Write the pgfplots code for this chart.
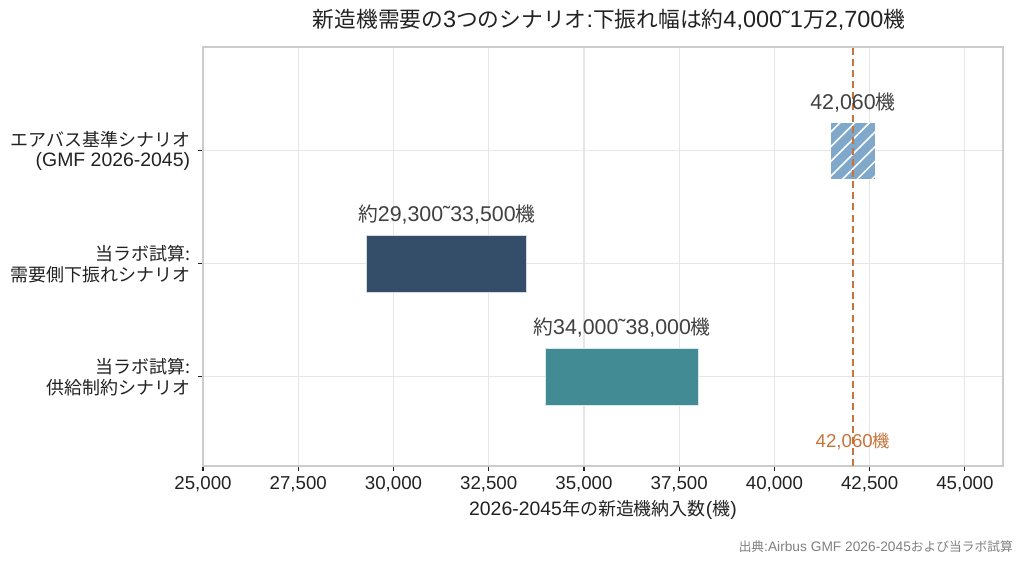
\documentclass[border=0pt]{standalone}
\usepackage{pgfplots}
\pgfplotsset{compat=1.18}
\usepackage{fontspec}
\setmainfont{Liberation Sans}[Scale=1.08]
\newfontfamily\cjk{Noto Sans CJK JP}
\usetikzlibrary{patterns.meta}
\definecolor{navybar}{HTML}{344D69}
\definecolor{tealbar}{HTML}{428A94}
\definecolor{bluebar}{HTML}{7FA8CA}
\definecolor{orangeline}{HTML}{C8733A}
\definecolor{gridc}{HTML}{E6E6E6}
\definecolor{framec}{HTML}{CCCCCC}
\definecolor{txt}{HTML}{222222}
\definecolor{lbl}{HTML}{404040}
\begin{document}
\begin{tikzpicture}
\begin{axis}[
  at={(146.16bp,71.28bp)}, anchor=south west,
  scale only axis, width=576bp, height=301.68bp,
  xmin=25000, xmax=46000, ymin=-0.79, ymax=2.92,
  xtick={25000,27500,...,45000},
  scaled x ticks=false,
  xticklabel style={/pgf/number format/.cd, fixed, precision=0, 1000 sep={,}, assume math mode=true, /tikz/.cd, font=\fontsize{12.5}{15}\selectfont, text=txt},
  ytick={0,1,2},
  yticklabels={{\cjk 当ラボ試算:\\\cjk 供給制約シナリオ},{\cjk 当ラボ試算:\\\cjk 需要側下振れシナリオ},{\cjk エアバス基準シナリオ\\(GMF 2026-2045)}},
  yticklabel style={align=right, font=\fontsize{13}{15}\selectfont, text=txt, xshift=-2bp},
  grid=major, major grid style={gridc, line width=0.8bp},
  axis line style={framec, line width=0.8bp},
  tick align=outside, tick pos=left,
  major tick length=3.5bp,
  tick style={txt, line width=0.8bp},
  clip=true,
]
\addplot[fill=navybar, draw=white!80!navybar, line width=0.6bp] coordinates {(29300,0.75) (33500,0.75) (33500,1.25) (29300,1.25)} --cycle;
\addplot[fill=tealbar, draw=white!80!tealbar, line width=0.6bp] coordinates {(34000,-0.25) (38000,-0.25) (38000,0.25) (34000,0.25)} --cycle;
\addplot[fill=bluebar, draw=white, line width=0.6bp, postaction={pattern color=white, pattern={Lines[angle=45,distance=7.5bp,line width=1.1bp]}}] coordinates {(41460,1.75) (42660,1.75) (42660,2.25) (41460,2.25)} --cycle;
\addplot[orangeline, line width=1.5bp, dash pattern=on 5bp off 3bp] coordinates {(42060,-0.79) (42060,2.92)};
\node[text=lbl, font=\fontsize{14.3}{16}\selectfont] at (axis cs:31400,1.44) {{\cjk 約}29,300˜33,500{\cjk 機}};
\node[text=lbl, font=\fontsize{14.3}{16}\selectfont] at (axis cs:36000,0.44) {{\cjk 約}34,000˜38,000{\cjk 機}};
\node[text=lbl, font=\fontsize{14.3}{16}\selectfont] at (axis cs:42060,2.43) {42,060{\cjk 機}};
\node[text=orangeline, font=\fontsize{12.5}{15}\selectfont] at (axis cs:42060,-0.57) {42,060{\cjk 機}};
\end{axis}
\node[text=txt, font=\fontsize{15.7}{18}\selectfont] at (438.5bp,392.4bp) {{\cjk 新造機需要の}3{\cjk つのシナリオ}:{\cjk 下振れ幅は約}4,000˜1{\cjk 万}2,700{\cjk 機}};
\node[text=txt, font=\fontsize{13}{15}\selectfont] at (434.16bp,39.6bp) {2026-2045{\cjk 年の新造機納入数}({\cjk 機})};
\node[text=gray, font=\fontsize{9.2}{11}\selectfont, anchor=east, inner sep=0pt] at (729.4bp,12.96bp) {{\cjk 出典}:Airbus GMF 2026-2045{\cjk および当ラボ試算}};
\pgfresetboundingbox
\useasboundingbox (0,0) rectangle (737.28bp,406.8bp);
\end{tikzpicture}
\end{document}
